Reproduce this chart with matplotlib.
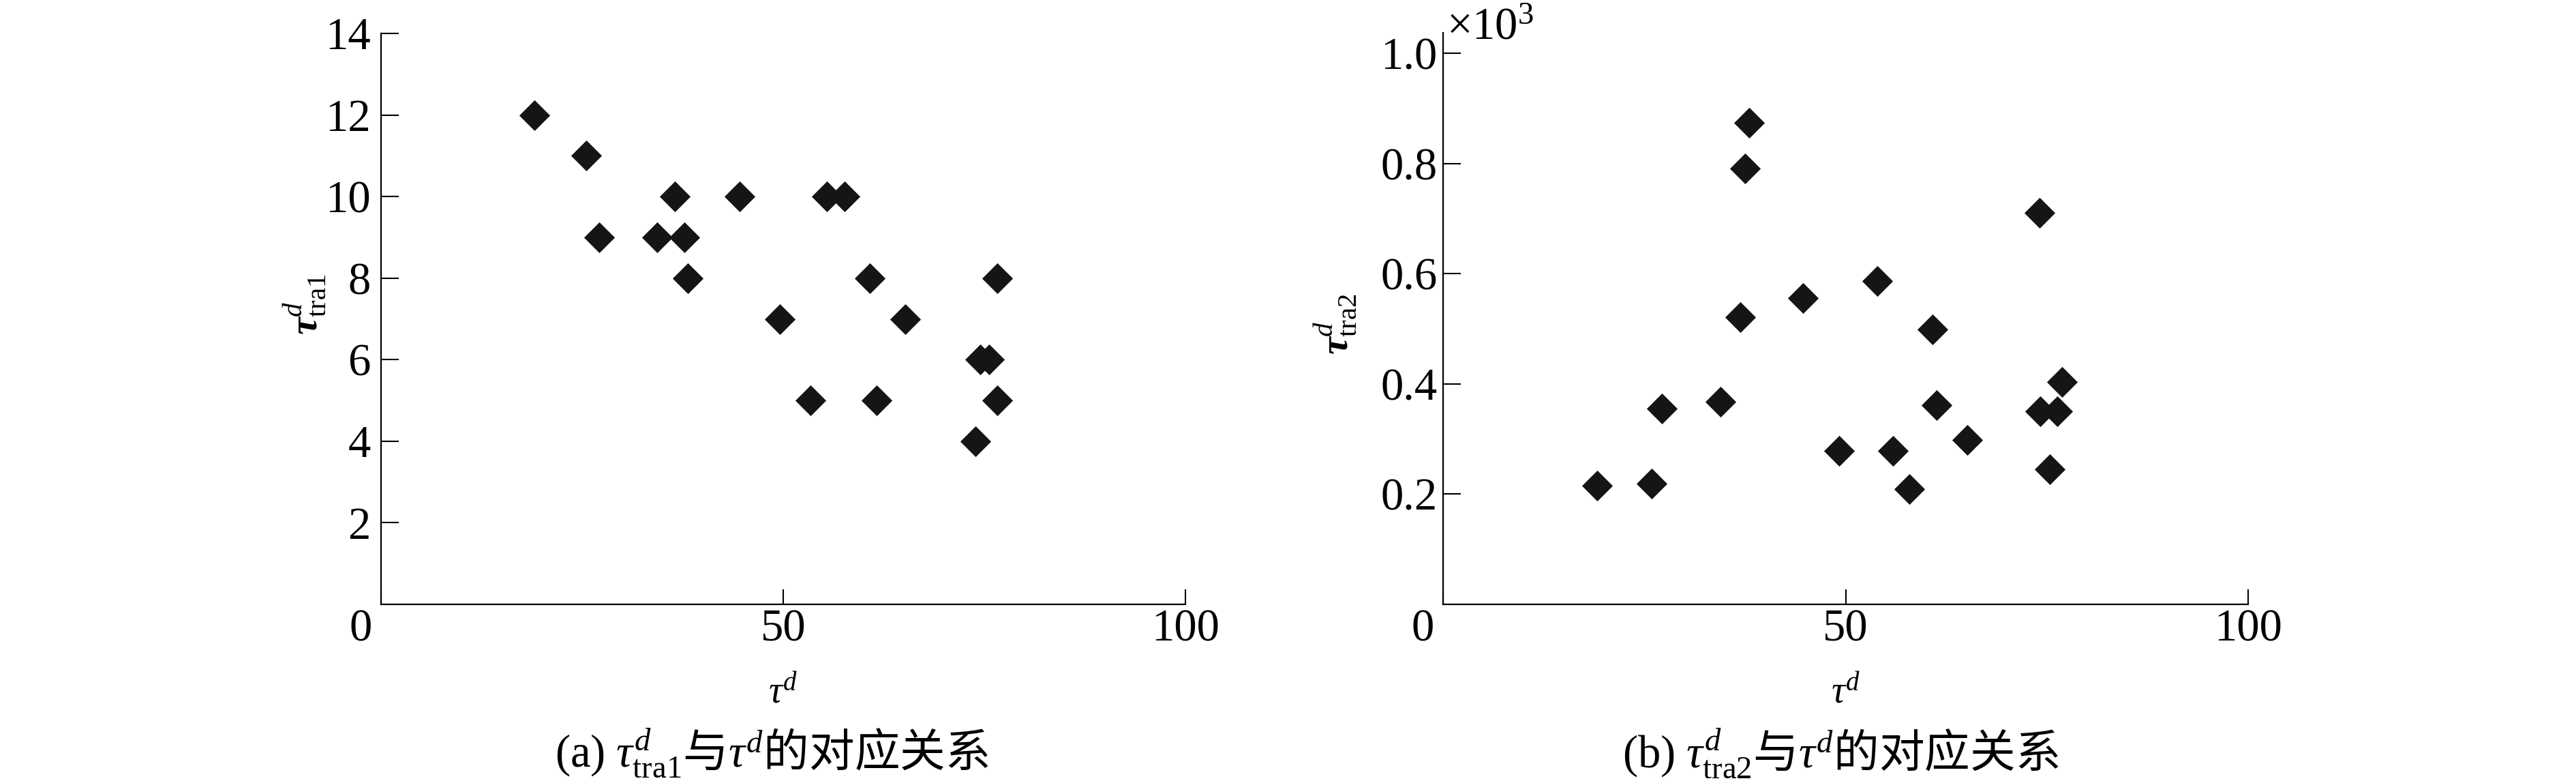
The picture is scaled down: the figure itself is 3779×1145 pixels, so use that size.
import matplotlib
matplotlib.use('Agg')
from matplotlib import pyplot as plt
from matplotlib.ticker import FuncFormatter
from matplotlib.transforms import offset_copy

plt.rcParams['font.family'] = ['Liberation Serif', 'Noto Sans CJK SC']
plt.rcParams['mathtext.fontset'] = 'custom'
plt.rcParams['mathtext.rm'] = 'Liberation Serif'
plt.rcParams['mathtext.it'] = 'Liberation Serif:italic'
plt.rcParams['mathtext.bf'] = 'Liberation Serif:bold'
plt.rcParams['mathtext.bfit'] = 'Liberation Serif:italic:bold'

# panel (a): tau_tra1 vs tau
tau_d_a = [19.1, 25.5, 27.1, 34.3, 36.5, 37.7, 38.1, 44.6, 49.6, 53.4,
           55.4, 57.6, 60.8, 61.6, 65.2, 73.9, 74.5, 75.6, 76.6, 76.6]
tau_tra1 = [12, 11, 9, 9, 10, 9, 8, 10, 7, 5,
            10, 10, 8, 5, 7, 4, 6, 6, 8, 5]

# panel (b): tau_tra2 vs tau
tau_d_b = [19.1, 25.9, 27.2, 34.5, 36.9, 37.5, 38.0, 44.7, 49.2, 53.9,
           55.9, 57.9, 60.8, 61.3, 65.1, 74.1, 74.2, 75.4, 76.3, 76.9]
tau_tra2 = [215, 219, 355, 367, 521, 791, 874, 556, 279, 587,
            279, 209, 499, 361, 298, 710, 350, 245, 350, 404]

xticks = [0, 50, 100]
yticks_a = [2, 4, 6, 8, 10, 12, 14]
yticks_b = [200, 400, 600, 800, 1000]

cap_a = r'$\mathrm{(a)}\ \tau^{d}_{\mathrm{tra1}}$与$\tau^{d}$的对应关系'
cap_b = r'$\mathrm{(b)}\ \tau^{d}_{\mathrm{tra2}}$与$\tau^{d}$的对应关系'

W, H = 3779, 1145
fig = plt.figure(figsize=(W / 100, H / 100), dpi=100)
ax1 = fig.add_axes([559 / W, 259 / H, 1180 / W, 837 / H])
ax2 = fig.add_axes([2117 / W, 259 / H, 1181 / W, 838 / H])


def style_axes(ax, ypad):
    ax.spines['top'].set_visible(False)
    ax.spines['right'].set_visible(False)
    for s in ['left', 'bottom']:
        ax.spines[s].set_linewidth(1.6)
    ax.set_xlim(0, 100)
    ax.set_xticks(xticks)
    ax.tick_params(axis='x', direction='in', length=16, width=1.5,
                   labelsize=48, pad=5)
    ax.tick_params(axis='y', direction='in', length=19, width=1.5,
                   labelsize=48, pad=ypad)
    ax.set_xlabel(r'$\tau^{d}$', fontsize=40)
    ax.xaxis.set_label_coords(0.5, -0.125)
    # the "0" label sits a little left of the corner
    lab0 = ax.get_xticklabels()[0]
    lab0.set_transform(offset_copy(lab0.get_transform(), fig=fig, x=-0.3, units='inches'))


ax1.scatter(tau_d_a, tau_tra1, marker='D', s=23 ** 2, color='#151515', linewidths=0)
ax1.set_ylim(0, 14)
ax1.set_yticks(yticks_a)
style_axes(ax1, 11)
ax1.set_ylabel(r'$\mathbfit{\tau}^{d}_{\mathrm{tra1}}$', fontsize=42)
ax1.yaxis.set_label_coords(-0.067, 0.525)
ax1.text(0.486, -0.2855, cap_a, transform=ax1.transAxes, ha='center', va='baseline',
         fontsize=48, family='Noto Sans CJK SC')

ax2.scatter(tau_d_b, tau_tra2, marker='D', s=23 ** 2, color='#151515', linewidths=0)
ax2.set_ylim(0, 1037)
ax2.set_yticks(yticks_b)
ax2.yaxis.set_major_formatter(FuncFormatter(lambda v, p: '%.1f' % (v / 1000)))
style_axes(ax2, 6)
ax2.set_ylabel(r'$\mathbfit{\tau}^{d}_{\mathrm{tra2}}$', fontsize=42)
ax2.yaxis.set_label_coords(-0.106, 0.49)
ax2.text(0.004, 0.989, r'$\times10^{3}$', transform=ax2.transAxes, ha='left',
         va='baseline', fontsize=48)
ax2.text(0.494, -0.2855, cap_b, transform=ax2.transAxes, ha='center', va='baseline',
         fontsize=48, family='Noto Sans CJK SC')

fig.savefig('out.png', dpi=100)
